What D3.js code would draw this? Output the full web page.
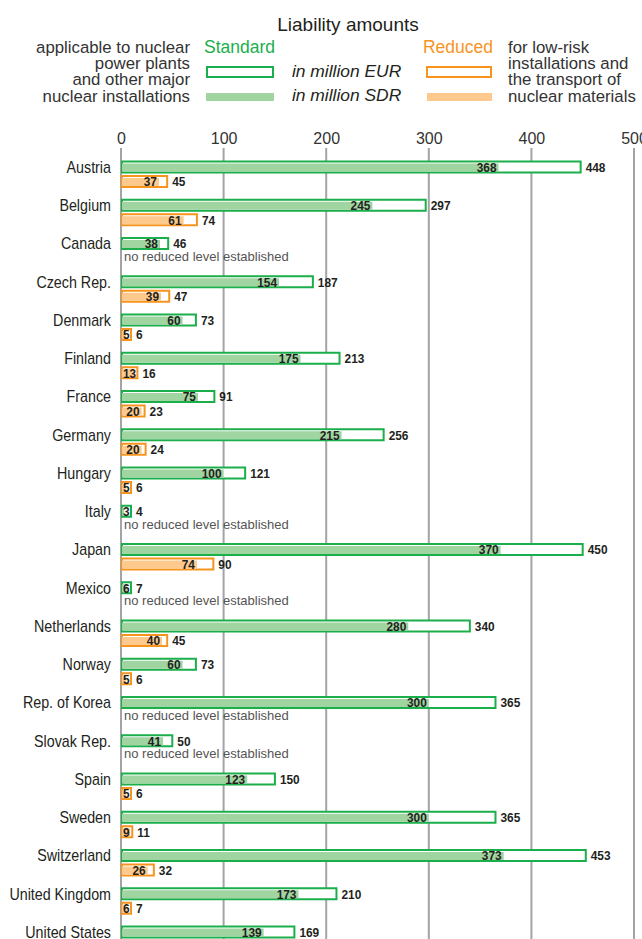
<!DOCTYPE html>
<html>
<head>
<meta charset="utf-8">
<script src="https://cdn.jsdelivr.net/npm/d3@7"></script>
<style>
  body { margin: 0; background: #fff; }
  svg { display: block; }
</style>
</head>
<body>
<script>
const countries = ["Austria","Belgium","Canada","Czech Rep.","Denmark","Finland","France","Germany","Hungary","Italy","Japan","Mexico","Netherlands","Norway","Rep. of Korea","Slovak Rep.","Spain","Sweden","Switzerland","United Kingdom","United States"];
const standardSDR = [368,245,38,154,60,175,75,215,100,3,370,6,280,60,300,41,123,300,373,173,139];
const standardEUR = [448,297,46,187,73,213,91,256,121,4,450,7,340,73,365,50,150,365,453,210,169];
const reducedSDR  = [37,61,null,39,5,13,20,20,5,null,74,null,40,5,null,null,5,9,26,6,null];
const reducedEUR  = [45,74,null,47,6,16,23,24,6,null,90,null,45,6,null,null,6,11,32,7,null];
const tickValues = [0,100,200,300,400,500];

const W = 642, H = 939;
const GREEN = "#1aaf4b", GREEN_FILL = "#a0d4a0", ORANGE = "#f7941d", ORANGE_FILL = "#fdc98c";
const SANS = "'Liberation Sans',Arial,sans-serif";

function condense(sel, f) {
  sel.each(function() {
    const w = this.getComputedTextLength();
    d3.select(this).attr("textLength", w * f).attr("lengthAdjust", "spacingAndGlyphs");
  });
}

const svg = d3.select("body").append("svg").attr("width", W).attr("height", H);

const x = d3.scaleLinear().domain([0, 500]).range([121, 634]);
const y = d3.scalePoint().domain(countries).range([167, 932]);

// Legend
const lg = svg.append("g").attr("font-family", SANS).attr("fill", "#333");
lg.append("text").attr("x", 348).attr("y", 24).attr("dy", "0.35em").attr("text-anchor", "middle")
  .attr("font-size", 19).attr("fill", "#231f20").text("Liability amounts");
const leftLines = ["applicable to nuclear","power plants","and other major","nuclear installations"];
const rightLines = ["for low-risk","installations and","the transport of","nuclear materials"];
const lineY = [47, 63, 79, 96];
leftLines.forEach((t,i) => lg.append("text").attr("x", 190).attr("y", lineY[i]).attr("dy","0.35em")
  .attr("text-anchor","end").attr("font-size", 16.8).text(t));
rightLines.forEach((t,i) => lg.append("text").attr("x", 508).attr("y", lineY[i]).attr("dy","0.35em")
  .attr("font-size", 16.8).text(t));
lg.append("text").attr("x", 204).attr("y", 47).attr("dy","0.35em").attr("font-size", 17.5).attr("fill", GREEN).text("Standard");
lg.append("text").attr("x", 493).attr("y", 47).attr("dy","0.35em").attr("text-anchor","end").attr("font-size", 17.5).attr("fill", ORANGE).text("Reduced");
lg.append("rect").attr("x", 207).attr("y", 67).attr("width", 66).attr("height", 10).attr("fill","#fff").attr("stroke", GREEN).attr("stroke-width", 2);
lg.append("rect").attr("x", 206).attr("y", 93).attr("width", 68).attr("height", 8).attr("fill", GREEN_FILL);
lg.append("rect").attr("x", 427).attr("y", 67).attr("width", 64).attr("height", 10).attr("fill","#fff").attr("stroke", ORANGE).attr("stroke-width", 2);
lg.append("rect").attr("x", 427).attr("y", 93).attr("width", 65).attr("height", 8).attr("fill", ORANGE_FILL);
lg.append("text").attr("x", 292).attr("y", 71).attr("dy","0.35em").attr("font-size", 17.4).attr("font-style","italic").attr("fill","#231f20").text("in million EUR");
lg.append("text").attr("x", 292).attr("y", 95).attr("dy","0.35em").attr("font-size", 17.4).attr("font-style","italic").attr("fill","#231f20").text("in million SDR");

// Axis
const axis = svg.append("g").attr("transform", "translate(0,144)")
  .call(d3.axisTop(x).tickValues(tickValues).tickSize(0).tickPadding(0));
axis.select(".domain").remove();
axis.selectAll("text").attr("font-family", SANS).attr("font-size", 16).attr("fill", "#333");

// Gridlines
svg.append("g").selectAll("line").data(tickValues).join("line")
  .attr("x1", d => x(d)).attr("x2", d => x(d)).attr("y1", 148).attr("y2", H)
  .attr("stroke", "#a3a3a8").attr("stroke-width", 2);

const x0 = x(0);
const rows = countries.map((c,i) => ({c, sSDR: standardSDR[i], sEUR: standardEUR[i], rSDR: reducedSDR[i], rEUR: reducedEUR[i]}));

const g = svg.append("g");
// Country labels
g.selectAll("text.country").data(rows).join("text").attr("class","country")
  .attr("x", 111).attr("y", d => y(d.c)).attr("dy","0.35em").attr("text-anchor","end")
  .attr("font-family", SANS).attr("font-size", 17).attr("fill", "#231f20").text(d => d.c)
  .call(condense, 0.84);

function drawBar(sel, sdr, eur, dy, stroke, fill) {
  sel.each(function(d) {
    const s = d[sdr], e = d[eur];
    if (s == null) return;
    const gg = d3.select(this);
    const r = y(d.c) + dy;
    const ow = Math.max(x(e) - x0, 10);
    gg.append("rect").attr("x", x0 + 1).attr("y", r - 5.5).attr("width", ow - 1).attr("height", 11)
      .attr("fill", "#fff").attr("stroke", stroke).attr("stroke-width", 2);
    gg.append("rect").attr("x", x0 + 1).attr("y", r - 3.5).attr("width", Math.max(x(s) - x0 - 1, 0)).attr("height", 8)
      .attr("fill", fill);
    const small = (x(s) - x0) < 16;
    gg.append("text").attr("x", small ? x0 + 2 : x(s) - 2).attr("y", r).attr("dy","0.36em")
      .attr("text-anchor", small ? "start" : "end")
      .attr("font-family", SANS).attr("font-weight","bold").attr("font-size", 13.5).attr("fill","#231f20").text(s)
      .call(condense, 0.88);
    gg.append("text").attr("x", x0 + ow + 5).attr("y", r).attr("dy","0.36em")
      .attr("font-family", SANS).attr("font-weight","bold").attr("font-size", 13.5).attr("fill","#231f20").text(e)
      .call(condense, 0.88);
  });
}

const rowG = g.selectAll("g.row").data(rows).join("g").attr("class","row");
rowG.call(drawBar, "sSDR", "sEUR", 0, GREEN, GREEN_FILL);
rowG.call(drawBar, "rSDR", "rEUR", 14.5, ORANGE, ORANGE_FILL);

// No reduced level notes
g.selectAll("text.note").data(rows.filter((d,i) => reducedSDR[i] == null && d.c !== "United States")).join("text")
  .attr("class","note").attr("x", 124).attr("y", d => y(d.c) + 13).attr("dy","0.35em")
  .attr("font-family", SANS).attr("font-size", 13).attr("fill", "#555").text("no reduced level established");
</script>
</body>
</html>
